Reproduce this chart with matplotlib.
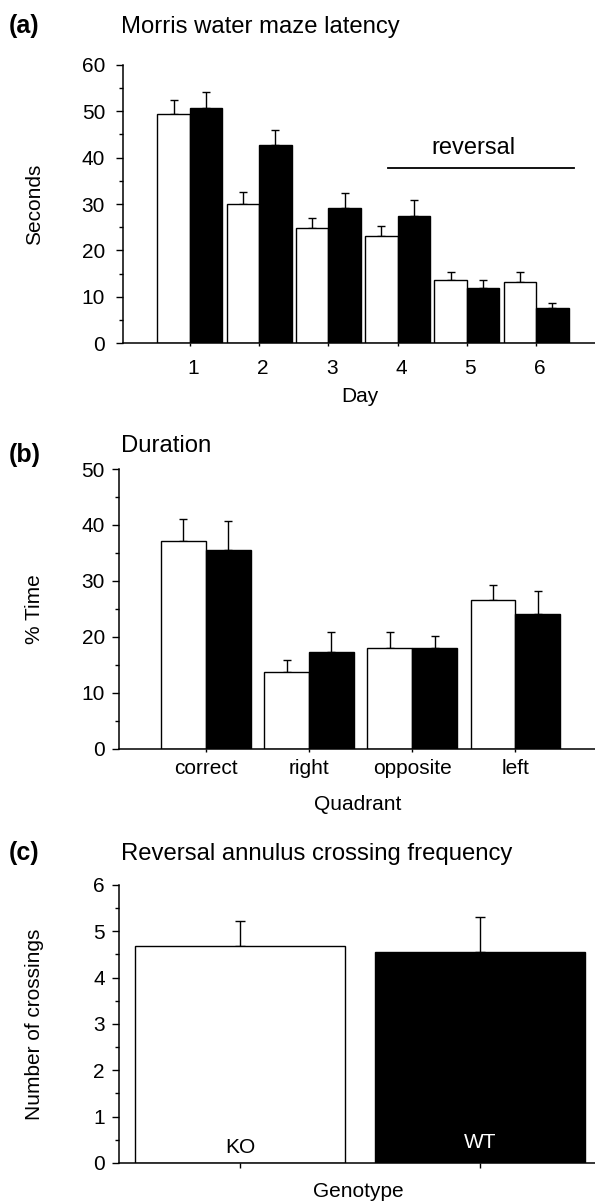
import matplotlib
matplotlib.use("Agg")
import matplotlib.pyplot as plt
import numpy as np
from matplotlib.ticker import MultipleLocator
from matplotlib.transforms import ScaledTranslation

plt.rcParams['font.family'] = ['Liberation Sans', 'DejaVu Sans']

# figure size in pixels
W, H = 595, 1203

# (a) morris water maze latency, KO = white, WT = black
days = [1, 2, 3, 4, 5, 6]
latency_ko = [49.4, 30.0, 24.9, 23.2, 13.6, 13.3]
latency_ko_err = [3.1, 2.6, 2.1, 2.1, 1.8, 2.1]
latency_wt = [50.7, 42.8, 29.2, 27.5, 12.0, 7.7]
latency_wt_err = [3.4, 3.1, 3.1, 3.4, 1.7, 0.9]
reversal_days = [3.86, 6.54]
reversal_level = 37.8

# (b) duration per quadrant
quadrants = ["correct", "right", "opposite", "left"]
duration_ko = [37.2, 13.6, 17.9, 26.5]
duration_ko_err = [3.8, 2.2, 2.9, 2.8]
duration_wt = [35.5, 17.3, 18.0, 24.1]
duration_wt_err = [5.2, 3.5, 2.1, 4.1]

# (c) reversal annulus crossings
genotypes = ["KO", "WT"]
crossings = [4.67, 4.55]
crossings_err = [0.56, 0.76]

fig = plt.figure(figsize=(W / 100, H / 100), dpi=100)


def px_axes(left, top, bottom, right=W):
    return fig.add_axes([left / W, 1 - bottom / H, (right - left) / W, (bottom - top) / H])


def style_axes(ax, major, minor, ypad):
    for side in ["top", "right"]:
        ax.spines[side].set_visible(False)
    for side in ["left", "bottom"]:
        ax.spines[side].set_linewidth(1.1)
    ax.yaxis.set_major_locator(MultipleLocator(major))
    ax.yaxis.set_minor_locator(MultipleLocator(minor))
    ax.tick_params(axis="y", which="major", direction="out", length=4.7, width=1.0, pad=ypad, labelsize=15)
    ax.tick_params(axis="y", which="minor", direction="out", length=3.2, width=1.0)


def fig_text(x, y, s, **kw):
    fig.text(x / W, 1 - y / H, s, **kw)


# ---- panel (a)
ax = px_axes(122.7, 64.8, 343.3)
x = np.array(days, dtype=float)
bw = 0.47
ax.bar(x, latency_ko, width=-bw, align="edge", facecolor="white", edgecolor="black", linewidth=1.0, zorder=2)
ax.bar(x, latency_wt, width=bw, align="edge", facecolor="black", edgecolor="black", linewidth=1.0, zorder=2)
ax.errorbar(x - bw / 2, latency_ko, yerr=[np.zeros(len(x)), latency_ko_err], fmt="none",
            ecolor="black", elinewidth=1.0, capsize=3, capthick=1.0, zorder=1)
ax.errorbar(x + bw / 2, latency_wt, yerr=[np.zeros(len(x)), latency_wt_err], fmt="none",
            ecolor="black", elinewidth=1.0, capsize=3, capthick=1.0, zorder=1)
ax.plot(reversal_days, [reversal_level, reversal_level], color="black", linewidth=1.3)
ax.text(np.mean(reversal_days) - 0.1, 40.7, "reversal", ha="center", va="baseline", fontsize=17)
ax.set_xlim(0.03, 6.85)
ax.set_ylim(0, 60)
style_axes(ax, 10, 5, 8)
ax.set_xticks(days)
ax.set_xticklabels([str(d) for d in days])
ax.tick_params(axis="x", direction="out", length=2.5, width=1.0, pad=8.6, labelsize=15)
for lab in ax.get_xticklabels():
    lab.set_transform(lab.get_transform() + ScaledTranslation(3.5 / 100, 0, fig.dpi_scale_trans))

fig_text(8.5, 33, "(a)", fontsize=18, fontweight="bold", va="baseline")
fig_text(121, 33, "Morris water maze latency", fontsize=17.2, va="baseline")
fig_text(35, 204, "Seconds", fontsize=15, rotation=90, ha="center", va="center")
fig_text(360, 402, "Day", fontsize=15, ha="center", va="baseline")

# ---- panel (b)
ax = px_axes(119.3, 469, 748.5)
xq = np.arange(1, len(quadrants) + 1, dtype=float)
bw = 0.435
ax.bar(xq, duration_ko, width=-bw, align="edge", facecolor="white", edgecolor="black", linewidth=1.0, zorder=2)
ax.bar(xq, duration_wt, width=bw, align="edge", facecolor="black", edgecolor="black", linewidth=1.0, zorder=2)
ax.errorbar(xq - bw / 2, duration_ko, yerr=[np.zeros(len(xq)), duration_ko_err], fmt="none",
            ecolor="black", elinewidth=1.0, capsize=3, capthick=1.0, zorder=1)
ax.errorbar(xq + bw / 2, duration_wt, yerr=[np.zeros(len(xq)), duration_wt_err], fmt="none",
            ecolor="black", elinewidth=1.0, capsize=3, capthick=1.0, zorder=1)
ax.set_xlim(0.163, 4.77)
ax.set_ylim(0, 50)
style_axes(ax, 10, 5, 5.6)
ax.set_xticks(xq)
ax.set_xticklabels(quadrants)
ax.tick_params(axis="x", direction="out", length=2.4, width=1.0, pad=5.5, labelsize=15)

fig_text(8.5, 462, "(b)", fontsize=18, fontweight="bold", va="baseline")
fig_text(121, 451.7, "Duration", fontsize=17.2, va="baseline")
fig_text(35, 609, "% Time", fontsize=15, rotation=90, ha="center", va="center")
fig_text(358, 810, "Quadrant", fontsize=15, ha="center", va="baseline")

# ---- panel (c)
ax = px_axes(119.3, 884.8, 1163)
xg = np.arange(len(genotypes), dtype=float)
bw = 0.875
ax.bar(xg, crossings, width=bw, color=["white", "black"], edgecolor="black", linewidth=1.0, zorder=2)
ax.errorbar(xg, crossings, yerr=[np.zeros(len(xg)), crossings_err], fmt="none",
            ecolor="black", elinewidth=1.0, capsize=3.3, capthick=1.0, zorder=1)
ax.set_xlim(-0.503, 1.479)
ax.set_ylim(0, 6)
style_axes(ax, 1, 0.5, 5.6)
ax.set_xticks(xg)
ax.set_xticklabels([])
ax.tick_params(axis="x", direction="out", length=3.6, width=1.0)
ax.text(xg[0], 0.13, genotypes[0], ha="center", va="bottom", fontsize=15, color="black", zorder=3)
ax.text(xg[1], 0.24, genotypes[1], ha="center", va="bottom", fontsize=15, color="white", zorder=3)

fig_text(8.5, 860, "(c)", fontsize=18, fontweight="bold", va="baseline")
fig_text(121, 860, "Reversal annulus crossing frequency", fontsize=17.2, va="baseline")
fig_text(35, 1024, "Number of crossings", fontsize=15, rotation=90, ha="center", va="center")
fig_text(358, 1197, "Genotype", fontsize=15, ha="center", va="baseline")

fig.savefig("out.png", dpi=100)
